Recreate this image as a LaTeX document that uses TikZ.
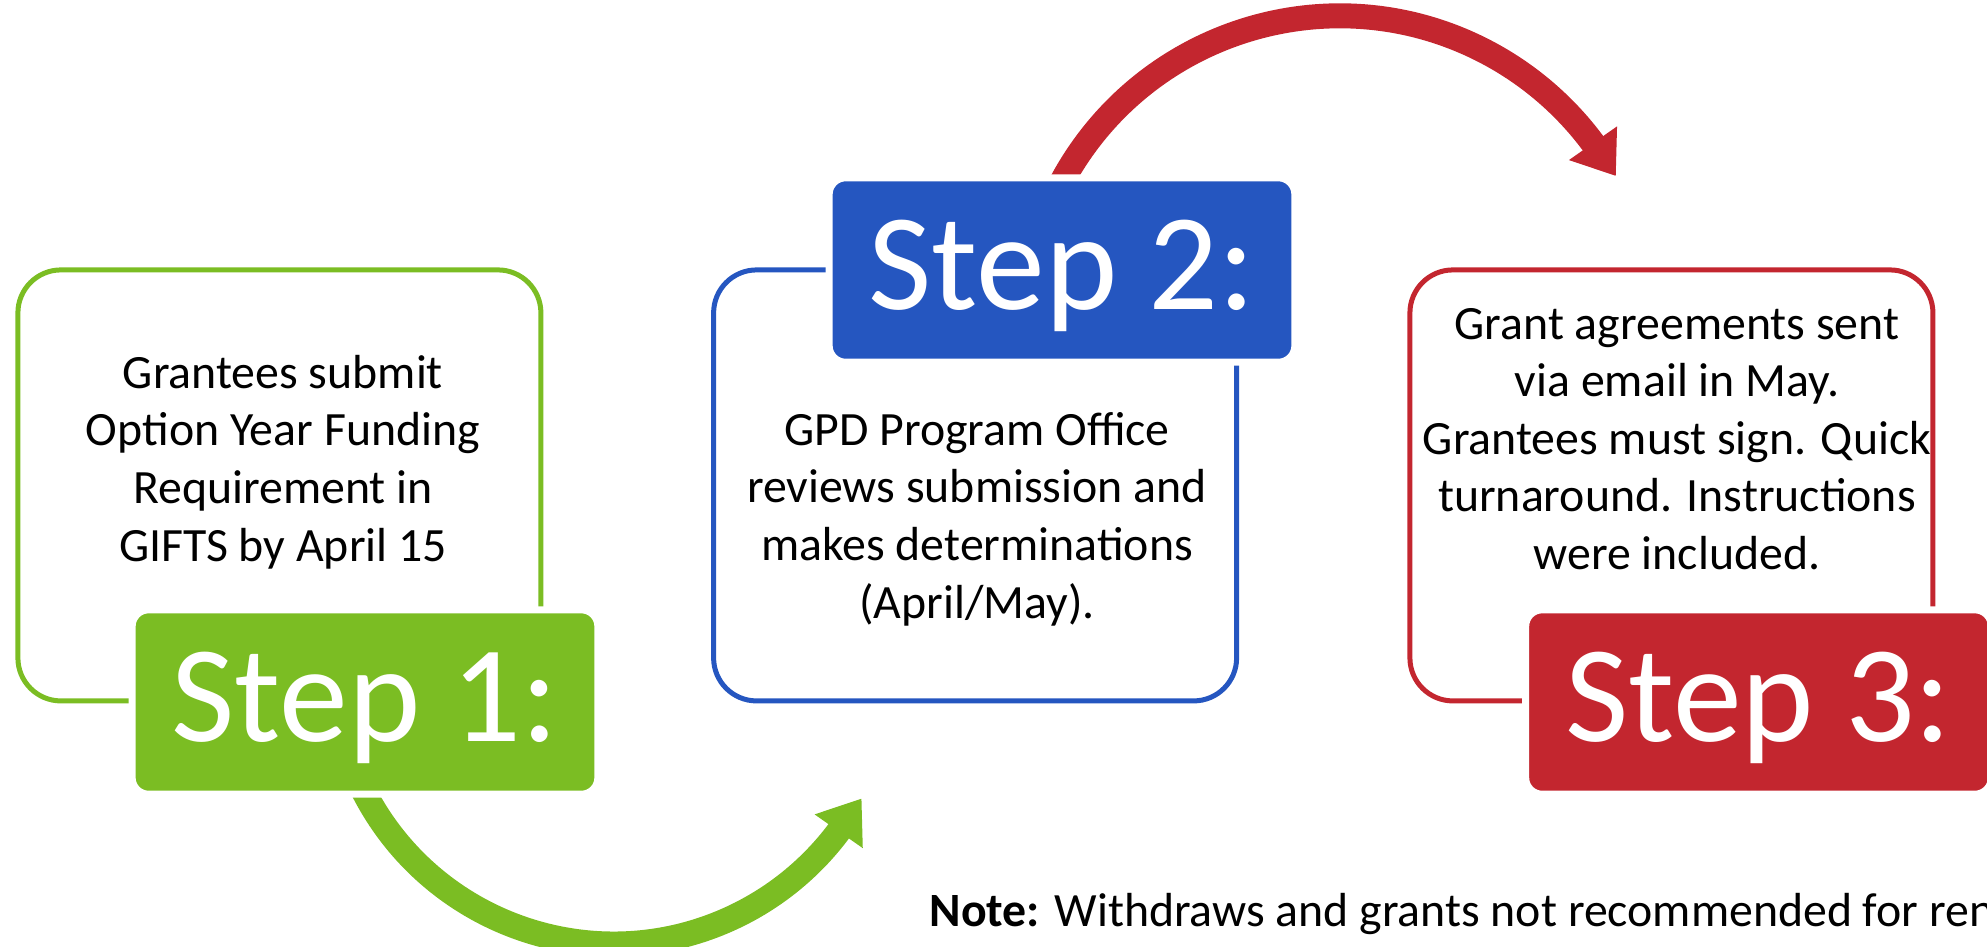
\documentclass[tikz,border=0pt]{standalone}
\usepackage{fontspec}
\setmainfont{Carlito}
\usepackage{tikz}
\usetikzlibrary{arrows.meta,positioning,calc,backgrounds}
\definecolor{stepgreen}{HTML}{7BBD23}
\definecolor{stepblue}{HTML}{2556C0}
\definecolor{stepred}{HTML}{C3262F}
\definecolor{ink}{HTML}{000000}
\tikzset{
  framebox/.style={draw=#1,line width=0.05cm,rounded corners=0.43cm,
                   minimum width=5.23cm,minimum height=4.31cm,inner sep=0pt},
  stepbox/.style={draw=white,fill=#1,line width=0.07cm,rounded corners=0.165cm,
                  minimum width=4.657cm,minimum height=1.844cm,inner sep=0pt,
                  text=white,font=\fontsize{39.2}{41}\selectfont,
                  text height=0.88cm,text depth=0.1cm},
  bodytext/.style={align=center,inner sep=0pt,text=ink,
                   font=\fontsize{13.6}{16.4}\selectfont},
  looparr/.style={draw=#1,line width=0.25cm,
                  -{Triangle[length=0.4cm,width=0.56cm]}}
}

\begin{document}
\begin{tikzpicture}[x=1cm,y=1cm]
      \useasboundingbox (0,0) rectangle (19.87,-9.46);
      \node[framebox=stepgreen] (f1) at (2.794,-4.854) {};
      \node[framebox=stepblue] (f2) at (9.751,-4.854) {};
      \node[framebox=stepred] (f3) at (16.714,-4.854) {};

      \node[bodytext] (t1) at (2.83,-4.62) {Grantees submit\\Option Year Funding\\Requirement in\\GIFTS by April 15};
      \node[bodytext] (t2) at (9.77,-5.19) {GPD Program Office\\reviews submission and\\makes determinations\\(April/May).};
      \node[bodytext] (t3) at (16.77,-4.39) {Grant agreements sent\\via email in May.\\Grantees must sign. Quick\\turnaround. Instructions\\were included.};

      \node[stepbox=stepgreen] (s1) at (3.65,-7.02) {Step 1:};
      \node[stepbox=stepblue] (s2) at (10.62,-2.70) {Step 2:};
      \node[stepbox=stepred] (s3) at (17.585,-7.02) {Step 3:};

      \node[anchor=base west,inner sep=0pt,font=\fontsize{13.6}{16}\selectfont] (note) at (9.29,-9.267) {\textbf{Note:} Withdraws and grants not recommended for ren};

      \begin{scope}[on background layer]
        \draw[looparr=stepgreen] ($(s1.south)+(-0.06,0.16)$) arc[start angle=205,end angle=323,radius=2.81] -- ++(55:0.41);
        \draw[looparr=stepred] ($(s2.north)+(-0.01,-0.09)$) arc[start angle=152,end angle=36.8,radius=3.156] -- ++(-55:0.41);
      \end{scope}
    \end{tikzpicture}
\end{document}
